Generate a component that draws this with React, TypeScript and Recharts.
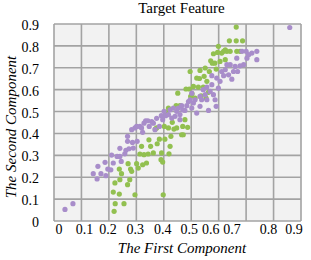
import { ScatterChart, Scatter, XAxis, YAxis, CartesianGrid } from "recharts";

const xTicks = [0, 0.1, 0.2, 0.3, 0.4, 0.5, 0.6, 0.7, 0.8, 0.9];
const yTicks = [0, 0.1, 0.2, 0.3, 0.4, 0.5, 0.6, 0.7, 0.8, 0.9];

// [first component, second component]
const purplePoints: [number, number][] = [
  [0.040, 0.053], [0.069, 0.079], [0.859, 0.884], [0.143, 0.216], [0.157, 0.192],
  [0.160, 0.250], [0.171, 0.216], [0.186, 0.268], [0.189, 0.207], [0.196, 0.237],
  [0.207, 0.234], [0.210, 0.301], [0.216, 0.265], [0.230, 0.295], [0.240, 0.295],
  [0.240, 0.332], [0.245, 0.272], [0.258, 0.307], [0.262, 0.323], [0.268, 0.387],
  [0.268, 0.364], [0.273, 0.330], [0.283, 0.417], [0.286, 0.359], [0.289, 0.333],
  [0.295, 0.425], [0.301, 0.432], [0.303, 0.364], [0.313, 0.432], [0.319, 0.425],
  [0.323, 0.405], [0.328, 0.447], [0.334, 0.458], [0.342, 0.458], [0.347, 0.432],
  [0.356, 0.454], [0.362, 0.447], [0.368, 0.417], [0.374, 0.469], [0.384, 0.432],
  [0.391, 0.481], [0.396, 0.463], [0.401, 0.501], [0.407, 0.481], [0.417, 0.486],
  [0.423, 0.508], [0.429, 0.470], [0.435, 0.516], [0.441, 0.478], [0.447, 0.501],
  [0.453, 0.516], [0.459, 0.486], [0.465, 0.527], [0.469, 0.508], [0.477, 0.505],
  [0.484, 0.527], [0.490, 0.546], [0.496, 0.554], [0.502, 0.516], [0.508, 0.539],
  [0.514, 0.554], [0.520, 0.493], [0.532, 0.524], [0.538, 0.554], [0.544, 0.600],
  [0.551, 0.577], [0.557, 0.554], [0.563, 0.505], [0.569, 0.592], [0.575, 0.623],
  [0.581, 0.577], [0.587, 0.554], [0.591, 0.524], [0.593, 0.653], [0.599, 0.607],
  [0.605, 0.638], [0.611, 0.683], [0.618, 0.664], [0.624, 0.691], [0.630, 0.714],
  [0.636, 0.668], [0.642, 0.714], [0.648, 0.648], [0.654, 0.683], [0.660, 0.706],
  [0.666, 0.744], [0.669, 0.683], [0.678, 0.709], [0.685, 0.775], [0.691, 0.714],
  [0.700, 0.775], [0.703, 0.744], [0.709, 0.760], [0.721, 0.767], [0.739, 0.775],
  [0.739, 0.737], [0.575, 0.664], [0.532, 0.569], [0.502, 0.584], [0.557, 0.612],
  [0.459, 0.463],
];

const greenPoints: [number, number][] = [
  [0.222, 0.174], [0.216, 0.132], [0.223, 0.079], [0.219, 0.044], [0.240, 0.189],
  [0.238, 0.123], [0.246, 0.216], [0.255, 0.079], [0.238, 0.237], [0.268, 0.166],
  [0.276, 0.189], [0.270, 0.262], [0.279, 0.237], [0.283, 0.227], [0.295, 0.120],
  [0.301, 0.262], [0.307, 0.242], [0.313, 0.306], [0.319, 0.341], [0.323, 0.257],
  [0.328, 0.303], [0.337, 0.265], [0.343, 0.306], [0.346, 0.371], [0.352, 0.341],
  [0.362, 0.311], [0.369, 0.420], [0.374, 0.425], [0.376, 0.353], [0.384, 0.374],
  [0.390, 0.280], [0.392, 0.311], [0.396, 0.269], [0.398, 0.120], [0.402, 0.432],
  [0.404, 0.374], [0.410, 0.496], [0.417, 0.516], [0.417, 0.425], [0.419, 0.307],
  [0.423, 0.341], [0.426, 0.387], [0.431, 0.451], [0.437, 0.420], [0.445, 0.527],
  [0.447, 0.425], [0.451, 0.584], [0.459, 0.527], [0.465, 0.394], [0.469, 0.432],
  [0.471, 0.394], [0.477, 0.463], [0.481, 0.603], [0.487, 0.428], [0.493, 0.603],
  [0.498, 0.569], [0.503, 0.581], [0.508, 0.615], [0.514, 0.562], [0.520, 0.653],
  [0.526, 0.612], [0.532, 0.688], [0.536, 0.572], [0.544, 0.612], [0.547, 0.661],
  [0.551, 0.699], [0.554, 0.562], [0.557, 0.638], [0.563, 0.588], [0.566, 0.683],
  [0.571, 0.732], [0.577, 0.721], [0.581, 0.764], [0.586, 0.721], [0.591, 0.694],
  [0.596, 0.770], [0.605, 0.729], [0.611, 0.767], [0.618, 0.775], [0.624, 0.782],
  [0.630, 0.775], [0.639, 0.823], [0.664, 0.823], [0.687, 0.823], [0.664, 0.886],
  [0.642, 0.775], [0.666, 0.775], [0.678, 0.775], [0.624, 0.737], [0.530, 0.651],
  [0.496, 0.683], [0.599, 0.798],
];

const purpleData = purplePoints.map(([x, y]) => ({ x, y }));
const greenData = greenPoints.map(([x, y]) => ({ x, y }));

const FONT = "'Liberation Serif', 'Times New Roman', serif";

const fmt = (v: number) => (v === 0 ? "0" : v.toFixed(1));

// the original's x labels sit a little off their grid lines
const xNudge = [5, 3, -1, -1, -1, -2, -8, -14, -5, -7];

const XTick = (props: any) => {
  const { x, payload, index } = props;
  const dx = xNudge[index] ?? 0;
  return (
    <text x={x + dx} y={234} textAnchor="middle" fontSize={14} fontFamily={FONT} fill="#000">
      {fmt(payload.value)}
    </text>
  );
};

const YTick = (props: any) => {
  const { y, payload } = props;
  return (
    <text x={39} y={y + 6} textAnchor="end" fontSize={14} fontFamily={FONT} fill="#000">
      {fmt(payload.value)}
    </text>
  );
};

const dot = (color: string) => (props: any) =>
  <circle cx={props.cx} cy={props.cy} r={2.6} fill={color} />;

export default function App() {
  return (
    <div style={{ position: "absolute", left: 0, top: 0, width: 311, height: 260, background: "#fff", fontFamily: FONT }}>
      <div style={{ position: "absolute", left: 0, width: 363, top: 0, textAlign: "center", fontSize: 15, lineHeight: "17px" }}>
        Target Feature
      </div>
      <ScatterChart width={311} height={260} margin={{ top: 24, right: 10, bottom: 14, left: 14 }}>
        <CartesianGrid fill="#f2f2f2" stroke="#a3a3a3" strokeWidth={1.6} />
        <XAxis
          type="number"
          dataKey="x"
          domain={[0, 0.9]}
          ticks={xTicks}
          axisLine={false}
          tickLine={false}
          height={25}
          tick={<XTick />}
          interval={0}
          allowDataOverflow
        />
        <YAxis
          type="number"
          dataKey="y"
          domain={[0, 0.9]}
          ticks={yTicks}
          axisLine={false}
          tickLine={false}
          width={40}
          tick={<YTick />}
          interval={0}
          allowDataOverflow
        />
        <Scatter data={greenData} fill="#92c050" shape={dot("#92c050")} isAnimationActive={false} />
        <Scatter data={purpleData} fill="#a88dca" shape={dot("#a88dca")} isAnimationActive={false} />
      </ScatterChart>
      <div style={{ position: "absolute", left: 0, width: 364, top: 240, textAlign: "center", fontSize: 15, fontStyle: "italic", lineHeight: "17px" }}>
        The First Component
      </div>
      <div
        style={{
          position: "absolute",
          left: 11,
          top: 127,
          transform: "translate(-50%, -50%) rotate(-90deg)",
          whiteSpace: "nowrap",
          fontSize: 15,
          fontStyle: "italic",
          lineHeight: "17px",
        }}
      >
        The Second Component
      </div>
    </div>
  );
}
